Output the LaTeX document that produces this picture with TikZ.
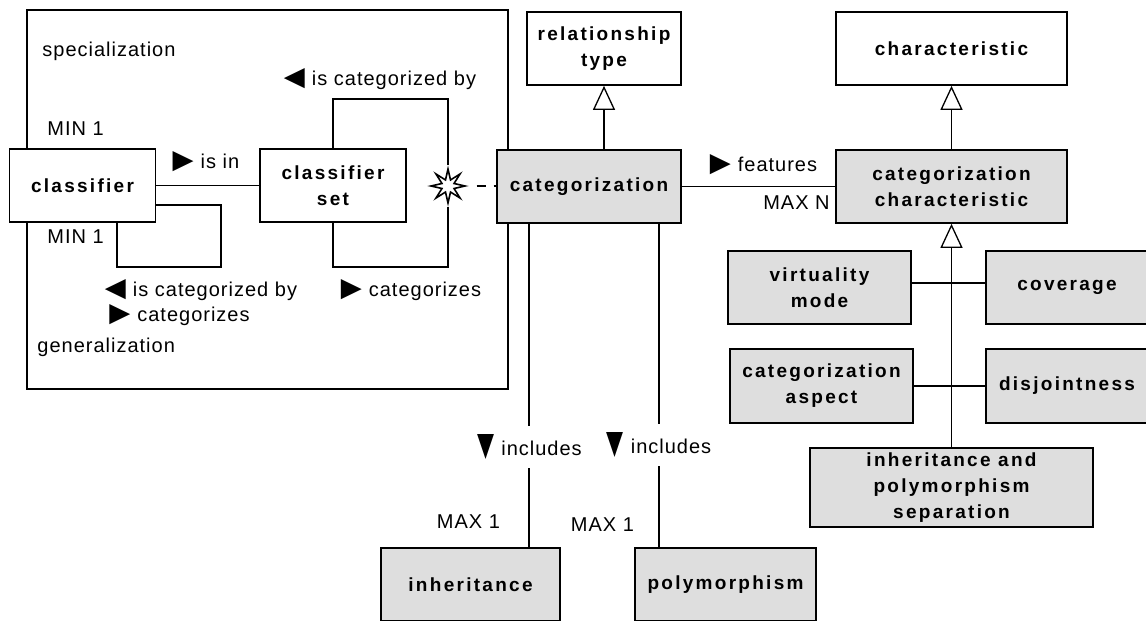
\documentclass[tikz,border=0pt]{standalone}
\usepackage{fontspec}
\setmainfont{Liberation Sans}
\newfontfamily\boxfont{Liberation Sans}[LetterSpace=12]
\newfontfamily\labfont{Liberation Sans}[LetterSpace=5]
\newfontfamily\symfont{DejaVu Sans}
\usetikzlibrary{arrows.meta,shapes.geometric}
\definecolor{boxgray}{HTML}{DEDEDE}
\newcommand\rtri{\resizebox{10.5pt}{8.5pt}{\symfont ▶}\hspace{3.5pt}}
\newcommand\ltri{\resizebox{10.5pt}{8.5pt}{\symfont ◀}\hspace{3.5pt}}
\newcommand\dtri{\resizebox{8.5pt}{10.5pt}{\symfont ▼}\hspace{3.5pt}}
\tikzset{
  entity/.style={draw, line width=0.85pt, fill=white, inner sep=0pt,
    minimum height=36.5pt, align=center,
    font=\boxfont\bfseries\fontsize{9.5}{13}\selectfont},
  shaded/.style={entity, fill=boxgray},
  lbl/.style={inner sep=1pt, font=\labfont\fontsize{10}{12}\selectfont},
  rel/.style={line width=0.65pt},
  isa/.style={rel, -{Triangle[open, width=11pt, length=12pt, line width=0.65pt]}},
}
\begin{document}
\begin{tikzpicture}[x=0.5pt, y=-0.5pt]
    \useasboundingbox (0,0) rectangle (1146,621);
    % frame round classifier and classifier set
    \draw[rel] (27,10) rectangle (508,389);
    \node[lbl, anchor=west] (spec) at (40,51) {specialization};
    \node[lbl, anchor=west] (gen) at (35,347) {generalization};

    \node[entity, minimum width=73pt] (classifier) at (82.5,185.5) {classifier};
    \node[entity, minimum width=73pt] (clset) at (333,185.5) {classifier\\set};
    \node[shaded, minimum width=92pt] (catz) at (589,186.5) {categorization};
    \node[entity, minimum width=77pt] (reltype) at (604,48.5) {relationship\\type};
    \node[entity, minimum width=115.5pt] (charac) at (951.5,48.5) {characteristic};
    \node[shaded, minimum width=115.5pt] (catchar) at (951.5,186.5) {categorization\\characteristic};
    \node[shaded, minimum width=91.5pt] (virtmode) at (819.5,287.5) {virtuality\\mode};
    \node[shaded, minimum width=81pt] (coverage) at (1067,287.5) {coverage};
    \node[shaded, minimum width=91.5pt, minimum height=37pt] (cataspect) at (821.5,386) {categorization\\aspect};
    \node[shaded, minimum width=81pt, minimum height=37pt] (disjoint) at (1067,386) {disjointness};
    \node[shaded, minimum width=141.5pt, minimum height=39.5pt] (ipsep) at (951.5,487.5) {inheritance and\\polymorphism\\separation};
    \node[shaded, minimum width=89.5pt] (inherit) at (470.5,584.5) {inheritance};
    \node[shaded, minimum width=90.5pt] (polymorph) at (725.5,584.5) {polymorphism};

    \coordinate (settop) at (448,99);
    \coordinate (setbot) at (448,267);
    \coordinate (clsloop) at (221,267);
    \node[star, star points=8, star point ratio=2.6, minimum size=17pt, inner sep=0pt,
      draw, line width=0.8pt, fill=white] (joint) at (448,186) {};

    % classifier part
    \draw[rel] (classifier.east) -- (clset.west);
    \draw[rel] ([yshift=-9.75pt]classifier.east) -| (clsloop) -| ([xshift=17.25pt]classifier.south);
    \draw[rel] (clset.north) |- (settop) -- (joint.north);
    \draw[rel] (joint.south) -- (setbot) -| (clset.south);
    \draw[rel, dash pattern=on 4.5pt off 4pt, dash phase=4.5pt] (joint.east) -- (joint.east -| catz.west);
    \node[lbl] (isin) at (206,162) {\rtri is in};
    \node[lbl, anchor=west] (min1) at (45,129) {MIN 1};
    \node[lbl, anchor=west] (min2) at (45,237) {MIN 1};
    \node[lbl] (catby1) at (380,79) {\ltri is categorized by};
    \node[lbl] (catby2) at (201,290) {\ltri is categorized by};
    \node[lbl] (cats1) at (179.5,315) {\rtri categorizes};
    \node[lbl] (cats2) at (411,290) {\rtri categorizes};

    % categorization part
    \draw[isa] (catz.north -| reltype.south) -- (reltype.south);
    \draw[isa] (catchar.north) -- (charac.south);
    \draw[rel] (catz.east) -- (catz.east -| catchar.west);
    \node[lbl] (feat) at (763.5,165) {\rtri features};
    \node[lbl, anchor=east] (maxn) at (832,203) {MAX N};
    \draw[isa] (ipsep.north) -- (catchar.south);
    \draw[rel] ([yshift=2.25pt]virtmode.east) -- ([yshift=2.25pt]coverage.west);
    \draw[rel] (cataspect.east) -- (disjoint.west);

    \draw[rel] ([xshift=29.25pt]inherit.north) -- ([xshift=29.25pt]inherit.north |- catz.south);
    \draw[rel] ([xshift=-33.25pt]polymorph.north) -- ([xshift=-33.25pt]polymorph.north |- catz.south);
    \node[lbl, fill=white, inner ysep=4pt] (incl1) at (529.5,447) {\dtri includes};
    \node[lbl, fill=white, inner ysep=4pt] (incl2) at (659,445) {\dtri includes};
    \node[lbl] (max1) at (468.5,522) {MAX 1};
    \node[lbl] (max2) at (602.5,525) {MAX 1};
\end{tikzpicture}
\end{document}
